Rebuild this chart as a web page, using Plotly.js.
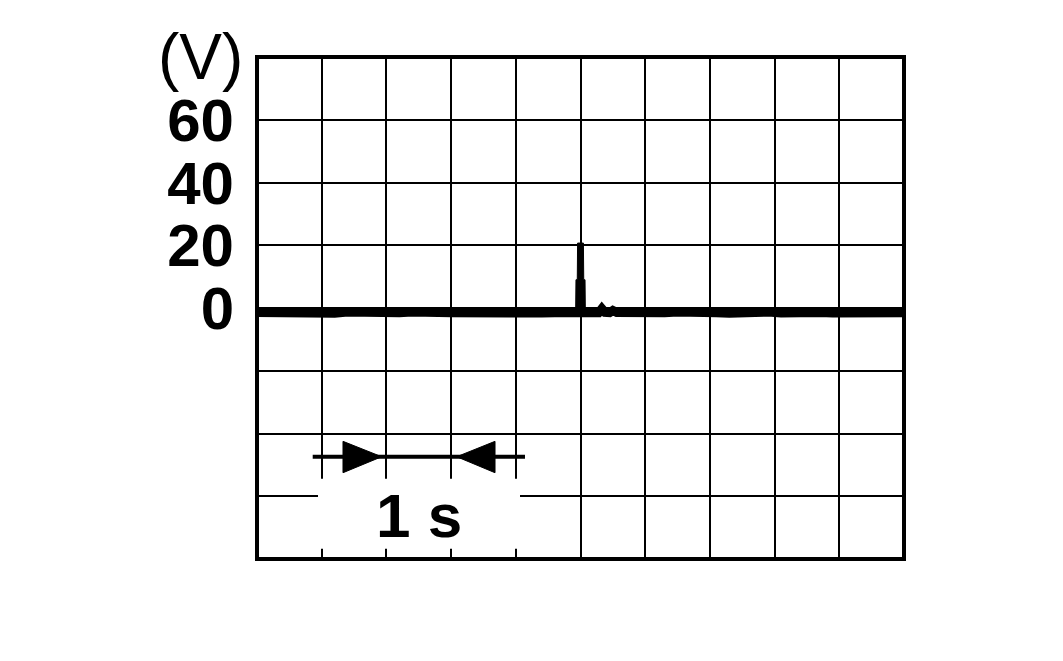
<!DOCTYPE html>
<html>
<head>
<meta charset="utf-8">
<script src="https://cdn.plot.ly/plotly-3.0.1.min.js"></script>
<style>html,body{margin:0;padding:0;background:#fff;}#chart{width:1063px;height:661px;}</style>
</head>
<body>
<div id="chart"></div>
<script>
// Time in grid divisions (10 divisions across the screen)
var baseTime = [0,0.2,0.4,0.6,0.8,1.0,1.2,1.4,1.6,1.8,2.0,2.2,2.4,2.6,2.8,3.0,3.2,3.4,3.6,3.8,4.0,4.2,4.4,4.6,4.8,4.9,5.1,5.16,5.22,5.28,5.33,5.38,5.45,5.5,5.56,5.7,5.9,6.1,6.3,6.5,6.7,6.9,7.1,7.3,7.5,7.7,7.9,8.1,8.3,8.5,8.7,8.9,9.1,9.3,9.5,9.7,9.9,10];
var baseVolt = [-1.4,-1.5,-1.3,-1.6,-1.4,-1.5,-1.7,-1.3,-1.5,-1.4,-1.6,-1.5,-1.3,-1.7,-1.4,-1.5,-1.6,-1.4,-1.5,-1.3,-1.5,-1.4,-1.6,-1.5,-1.4,-1.5,-1.4,-0.9,-1.4,-1.5,-0.2,-1.4,-1.5,-0.8,-1.4,-1.5,-1.6,-1.4,-1.5,-1.3,-1.6,-1.4,-1.5,-1.7,-1.4,-1.5,-1.3,-1.6,-1.4,-1.5,-1.4,-1.6,-1.5,-1.3,-1.5,-1.6,-1.4,-1.5];
var spikeTime = [4.925,4.93,4.95,4.955,5.045,5.05,5.07,5.075];
var spikeVolt = [-1.4,9,9,20.7,20.7,9,9,-1.4];
var yTickVals = [-80,-60,-40,-20,0,20,40,60,80];
var yTickText = ['','','','','<b>0</b>','<b>20</b>','<b>40</b>','<b>60</b>',''];
var unitLabel = '(V)';
var scaleLabel = '<b>1 s</b>';

var FONT = '"Liberation Sans", Arial, Helvetica, sans-serif';

var traces = [
  {x: baseTime, y: baseVolt, mode: 'lines', line: {color: '#000', width: 9}, hoverinfo: 'skip', showlegend: false},
  {x: spikeTime, y: spikeVolt, mode: 'lines', fill: 'toself', fillcolor: '#000', line: {color: '#000', width: 1}, hoverinfo: 'skip', showlegend: false}
];

var layout = {
  width: 1063, height: 661,
  margin: {l: 257, r: 159, t: 57, b: 102},
  paper_bgcolor: '#fff', plot_bgcolor: '#fff',
  showlegend: false,
  xaxis: {range: [0, 10], dtick: 1, tick0: 0, showgrid: true, gridcolor: '#000', gridwidth: 2,
          zeroline: false, showticklabels: false, ticks: '', showline: false, fixedrange: true},
  yaxis: {range: [-80, 80], tickmode: 'array', tickvals: yTickVals, ticktext: yTickText,
          showgrid: true, gridcolor: '#000', gridwidth: 2, zeroline: false, ticks: '',
          showline: false, ticklabelstandoff: 22,
          tickfont: {family: FONT, size: 60, color: '#000'}, fixedrange: true},
  shapes: [
    {type: 'rect', xref: 'x', yref: 'y', x0: 0.943, x1: 4.065, y0: -76.7, y1: -54.4,
     fillcolor: '#fff', line: {width: 0}, layer: 'above'},
    {type: 'line', xref: 'x', yref: 'y', x0: 0.861, x1: 4.142, y0: -47.4, y1: -47.4,
     line: {color: '#000', width: 4}, layer: 'above'},
    {type: 'path', xref: 'x', yref: 'y', path: 'M 1.329,-42.5 L 1.927,-47.4 L 1.329,-52.5 Z',
     fillcolor: '#000', line: {color: '#000', width: 1}, layer: 'above'},
    {type: 'path', xref: 'x', yref: 'y', path: 'M 3.679,-42.5 L 3.087,-47.4 L 3.679,-52.5 Z',
     fillcolor: '#000', line: {color: '#000', width: 1}, layer: 'above'},
    {type: 'rect', xref: 'paper', yref: 'paper', x0: 0, x1: 1, y0: 0, y1: 1,
     line: {color: '#000', width: 4}, layer: 'above'}
  ],
  annotations: [
    {xref: 'paper', yref: 'y', x: -0.018, y: 80, text: unitLabel, showarrow: false,
     xanchor: 'right', yanchor: 'middle', font: {family: FONT, size: 64, color: '#000'}},
    {xref: 'x', yref: 'y', x: 2.51, y: -66, text: scaleLabel, showarrow: false,
     xanchor: 'center', yanchor: 'middle', font: {family: FONT, size: 62, color: '#000'}}
  ]
};

Plotly.newPlot('chart', traces, layout, {staticPlot: true, displayModeBar: false});
</script>
</body>
</html>
